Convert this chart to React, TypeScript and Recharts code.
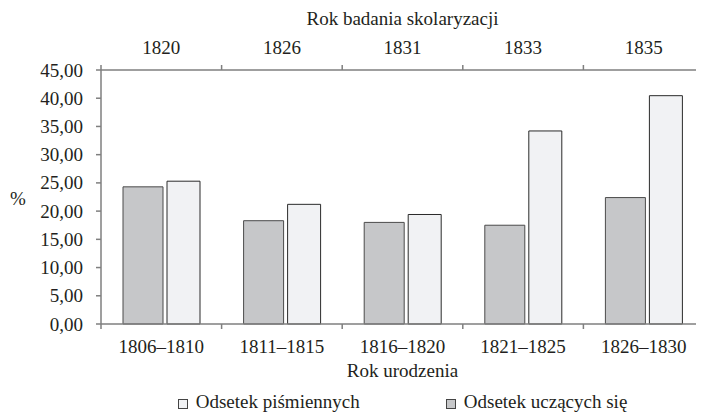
import React from 'react';
import { BarChart, Bar, XAxis, YAxis, Legend } from 'recharts';

const birthYears = ['1806–1810', '1811–1815', '1816–1820', '1821–1825', '1826–1830'];
const surveyYears = ['1820', '1826', '1831', '1833', '1835'];
const literateShare = [25.3, 21.2, 19.4, 34.2, 40.45];
const learningShare = [24.3, 18.3, 18.0, 17.5, 22.4];
const yTicks = [0, 5, 10, 15, 20, 25, 30, 35, 40, 45];

const LITERATE_NAME = 'Odsetek piśmiennych';
const LEARNING_NAME = 'Odsetek uczących się';
const legendOrder = [LITERATE_NAME, LEARNING_NAME];

const data = birthYears.map((b, i) => ({
  birth: b,
  survey: surveyYears[i],
  literate: literateShare[i],
  learning: learningShare[i],
}));

const FONT = 'Liberation Serif, Tinos, Times New Roman, DejaVu Serif, serif';
const FS = 19;
const TEXT = '#231f20';
const AXIS = '#7f7f7f';
const GRAY_FILL = '#c6c7c9';
const LIGHT_FILL = '#f1f2f4';

const W = 696;
const H = 406;
const Y_W = 93;

const textStyle = { fontFamily: FONT, fontSize: FS };

const BottomTick = (props: any) => {
  const { x, y, payload } = props;
  const half = payload && payload.offset ? payload.offset : 0;
  return (
    <g>
      <line x1={x - half} x2={x - half} y1={y - 5} y2={y} stroke={AXIS} strokeWidth={1.5} />
      <text x={x} y={y + 24} textAnchor="middle" fill={TEXT} style={textStyle}>
        {payload.value}
      </text>
    </g>
  );
};

const TopTick = (props: any) => {
  const { x, y, payload } = props;
  const half = payload && payload.offset ? payload.offset : 0;
  return (
    <g>
      <line x1={x - half} x2={x - half} y1={y} y2={y + 5} stroke={AXIS} strokeWidth={1.5} />
      <text x={x} y={y - 11.5} textAnchor="middle" fill={TEXT} style={textStyle}>
        {payload.value}
      </text>
    </g>
  );
};

const YTick = (props: any) => {
  const { x, y, payload } = props;
  return (
    <text x={x} y={y} dy={6.5} textAnchor="end" fill={TEXT} style={textStyle}>
      {Number(payload.value).toFixed(2).replace('.', ',')}
    </text>
  );
};

const TopTitle = (props: any) => {
  const vb = props.viewBox || { x: 0, y: 0, width: 0, height: 0 };
  return (
    <text x={vb.x + vb.width / 2} y={vb.y + 17} textAnchor="middle" fill={TEXT} style={textStyle}>
      Rok badania skolaryzacji
    </text>
  );
};

const BottomTitle = (props: any) => {
  const vb = props.viewBox || { x: 0, y: 0, width: 0, height: 0 };
  return (
    <text x={vb.x + vb.width / 2} y={vb.y + 53} textAnchor="middle" fill={TEXT} style={textStyle}>
      Rok urodzenia
    </text>
  );
};

const YTitle = (props: any) => {
  const vb = props.viewBox || { x: 0, y: 0, width: 0, height: 0 };
  return (
    <text x={vb.x + 2} y={vb.y + vb.height / 2 + 8} textAnchor="start" fill={TEXT} style={textStyle}>
      %
    </text>
  );
};

const LegendContent = (props: any) => {
  const payload: any[] = (props.payload || []).slice();
  payload.sort((a, b) => legendOrder.indexOf(a.value) - legendOrder.indexOf(b.value));
  return (
    <div
      style={{
        display: 'flex',
        justifyContent: 'center',
        gap: 86,
        paddingLeft: Y_W,
        width: W,
        boxSizing: 'border-box',
        height: 24,
        lineHeight: '24px',
        fontFamily: FONT,
        fontSize: FS,
        color: TEXT,
      }}
    >
      {payload.map((p) => (
        <div key={p.value} style={{ display: 'flex', alignItems: 'center' }}>
          <span
            style={{
              display: 'inline-block',
              width: 8,
              height: 8,
              border: '1px solid #444',
              background: p.payload && p.payload.fill ? p.payload.fill : p.color,
              marginRight: 8,
              marginTop: 3,
            }}
          />
          <span>{p.value}</span>
        </div>
      ))}
    </div>
  );
};

export default function App() {
  return (
    <BarChart
      width={W}
      height={H}
      data={data}
      margin={{ top: 0, right: 0, left: 0, bottom: 0 }}
      barGap={4}
      style={{ fontFamily: FONT }}
    >
      <XAxis
        xAxisId="top"
        dataKey="survey"
        orientation="top"
        height={62}
        tickSize={5}
        tickMargin={0}
        tickLine={false}
        axisLine={{ stroke: AXIS, strokeWidth: 1.5 }}
        tick={<TopTick />}
        interval={0}
        label={<TopTitle />}
      />
      <XAxis
        xAxisId="bottom"
        dataKey="birth"
        orientation="bottom"
        height={66}
        tickSize={5}
        tickMargin={0}
        tickLine={false}
        axisLine={{ stroke: AXIS, strokeWidth: 1.5 }}
        tick={<BottomTick />}
        interval={0}
        label={<BottomTitle />}
      />
      <YAxis
        width={Y_W}
        domain={[0, 45]}
        ticks={yTicks}
        interval={0}
        tickSize={5}
        tickMargin={13}
        tick={<YTick />}
        tickLine={{ stroke: AXIS, strokeWidth: 1.5 }}
        axisLine={{ stroke: AXIS, strokeWidth: 1.5 }}
        label={<YTitle />}
      />
      <Legend
        verticalAlign="bottom"
        content={<LegendContent />}
        wrapperStyle={{ left: 0, bottom: 0, width: W }}
      />
      <Bar
        xAxisId="bottom"
        dataKey="learning"
        name={LEARNING_NAME}
        barSize={40}
        fill={GRAY_FILL}
        stroke="#4a4a4a"
        strokeWidth={1}
        isAnimationActive={false}
      />
      <Bar
        xAxisId="bottom"
        dataKey="literate"
        name={LITERATE_NAME}
        barSize={33}
        fill={LIGHT_FILL}
        stroke="#2a2a2a"
        strokeWidth={1}
        isAnimationActive={false}
      />
    </BarChart>
  );
}
